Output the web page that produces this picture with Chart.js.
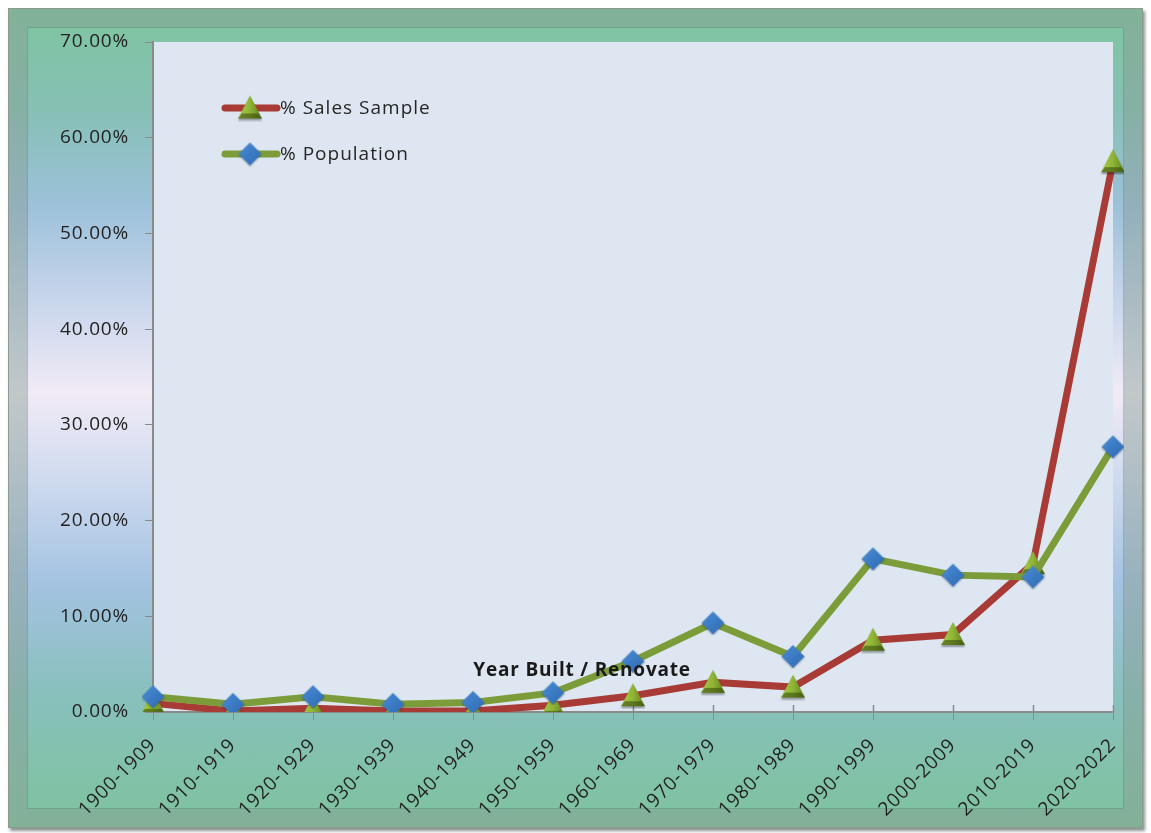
<!DOCTYPE html>
<html>
<head>
<meta charset="utf-8">
<script src="https://cdn.jsdelivr.net/npm/chart.js@4.4.1/dist/chart.umd.min.js"></script>
<style>
  body { margin: 0; background: #ffffff; }
  #wrap { position: relative; width: 1151px; height: 833px; overflow: hidden; }
  #frame {
    position: absolute; left: 8px; top: 8px; width: 1133px; height: 818px;
    border: 1px solid #8c9a92;
    background: linear-gradient(to bottom, #7ec59f 0%, #86c0b4 12%, #9cc1da 24%, #c9d6ec 36%, #f1ebf6 47%, #cdd9ee 58%, #a4c3e2 70%, #88c0bc 84%, #7ec39d 100%);
    box-shadow: inset 0 0 0 18px rgba(255,255,255,0.14), inset 0 0 0 19px rgba(80,110,95,0.35), 2px 3px 3px rgba(60,70,65,0.6);
  }
  canvas { position: absolute; left: 0; top: 0; }
</style>
</head>
<body>
<div id="wrap">
  <div id="frame"></div>
  <canvas id="chart" width="1151" height="833"></canvas>
</div>
<script>
// categories and values (percent)
const decades = ['1900-1909','1910-1919','1920-1929','1930-1939','1940-1949','1950-1959','1960-1969','1970-1979','1980-1989','1990-1999','2000-2009','2010-2019','2020-2022'];
const salesSample = [0.9, 0.1, 0.4, 0.1, 0.1, 0.7, 1.7, 3.1, 2.6, 7.5, 8.1, 15.5, 57.5];
const population = [1.6, 0.8, 1.6, 0.8, 1.0, 2.0, 5.3, 9.3, 5.8, 16.0, 14.3, 14.1, 27.7];
const seriesNames = ['% Sales Sample', '% Population'];
const axisTitle = 'Year Built / Renovate';

const FONT = '"Open Sans", Lato, sans-serif';

// green shaded triangle marker
function makeTriangle() {
  const c = document.createElement('canvas');
  c.width = 28; c.height = 27;
  const g = c.getContext('2d');
  g.shadowColor = 'rgba(0,0,0,0.35)';
  g.shadowOffsetY = 2; g.shadowBlur = 2;
  g.beginPath();
  g.moveTo(14, 1); g.lineTo(26, 24); g.lineTo(2, 24); g.closePath();
  const grad = g.createLinearGradient(2, 0, 26, 0);
  grad.addColorStop(0, '#a9cb4c');
  grad.addColorStop(0.5, '#8fb436');
  grad.addColorStop(1, '#5f7f1c');
  g.fillStyle = grad;
  g.fill();
  g.shadowColor = 'transparent';
  // darker base band
  g.beginPath();
  g.moveTo(6, 19); g.lineTo(22, 19); g.lineTo(26, 24); g.lineTo(2, 24); g.closePath();
  g.fillStyle = 'rgba(50,70,10,0.55)';
  g.fill();
  return c;
}

// blue diamond marker
function makeDiamond() {
  const c = document.createElement('canvas');
  c.width = 25; c.height = 25;
  const g = c.getContext('2d');
  g.shadowColor = 'rgba(0,0,0,0.3)';
  g.shadowOffsetY = 1; g.shadowBlur = 2;
  g.beginPath();
  g.moveTo(12.5, 1); g.lineTo(24, 12.5); g.lineTo(12.5, 24); g.lineTo(1, 12.5); g.closePath();
  const grad = g.createLinearGradient(0, 0, 25, 25);
  grad.addColorStop(0, '#4a8fd8');
  grad.addColorStop(1, '#2d68b0');
  g.fillStyle = grad;
  g.fill();
  return c;
}

const triImg = makeTriangle();
const diaImg = makeDiamond();

// plot background, axis title, and legend inside plot area
const decor = {
  id: 'decor',
  beforeDraw(chart) {
    const a = chart.chartArea;
    const ctx = chart.ctx;
    ctx.letterSpacing = '0.8px'; // widen tick text a bit (Excel look)
    ctx.save();
    ctx.fillStyle = '#dde6f1';
    ctx.fillRect(a.left, a.top, a.right - a.left, a.bottom - a.top);
    ctx.restore();
  },
  beforeDatasetsDraw(chart) {
    // x ticks cross the axis line, draw the upper half
    const a = chart.chartArea;
    const ctx = chart.ctx;
    const xs = chart.scales.x;
    ctx.save();
    ctx.strokeStyle = '#8a8a8a';
    ctx.lineWidth = 1.5;
    xs.ticks.forEach((t, i) => {
      const px = Math.round(xs.getPixelForTick(i)) + 0.5;
      ctx.beginPath();
      ctx.moveTo(px, a.bottom - 7);
      ctx.lineTo(px, a.bottom);
      ctx.stroke();
    });
    ctx.restore();
  },
  afterDraw(chart) {
    const a = chart.chartArea;
    const ctx = chart.ctx;
    ctx.save();
    ctx.letterSpacing = '0.8px';
    ctx.font = 'bold 19px ' + FONT;
    ctx.fillStyle = '#1a1a1a';
    ctx.textAlign = 'center';
    ctx.textBaseline = 'middle';
    ctx.fillText(axisTitle, a.left + (a.right - a.left) * 0.447, a.bottom - 41);

    // legend
    const rows = [
      { ds: chart.data.datasets[0], img: triImg, y: a.top + 66 },
      { ds: chart.data.datasets[1], img: diaImg, y: a.top + 112 }
    ];
    rows.forEach(r => {
      ctx.strokeStyle = r.ds.borderColor;
      ctx.lineWidth = 7;
      ctx.lineCap = 'round';
      ctx.beginPath();
      ctx.moveTo(a.left + 72, r.y);
      ctx.lineTo(a.left + 124, r.y);
      ctx.stroke();
      ctx.drawImage(r.img, a.left + 97 - r.img.width / 2, r.y - r.img.height / 2);
      ctx.font = '19px ' + FONT;
      ctx.letterSpacing = '1px';
      ctx.fillStyle = '#262626';
      ctx.textAlign = 'left';
      ctx.fillText(r.ds.label, a.left + 127, r.y + 1);
    });
    ctx.restore();
  }
};

new Chart(document.getElementById('chart'), {
  type: 'line',
  data: {
    labels: decades,
    datasets: [
      {
        label: seriesNames[0],
        data: salesSample,
        borderColor: '#a83b35',
        borderWidth: 7,
        pointStyle: triImg,
        order: 1,
        tension: 0
      },
      {
        label: seriesNames[1],
        data: population,
        borderColor: '#7c9c39',
        borderWidth: 7,
        pointStyle: diaImg,
        order: 0,
        tension: 0
      }
    ]
  },
  options: {
    responsive: false,
    animation: false,
    layout: { padding: { top: 42, right: 38, left: 0, bottom: 0 } },
    plugins: {
      legend: { display: false },
      tooltip: { enabled: false }
    },
    scales: {
      x: {
        offset: false,
        grid: { display: true, drawOnChartArea: false, drawTicks: true, tickLength: 8, color: '#8a8a8a' },
        border: { color: '#8a8a8a', width: 2 },
        ticks: {
          color: '#222',
          font: { family: FONT, size: 19 },
          maxRotation: 45, minRotation: 45,
          padding: 14,
          autoSkip: false
        },
        afterFit(s) { s.height = 833 - 712; }
      },
      y: {
        min: 0, max: 70,
        grid: { display: true, drawOnChartArea: false, drawTicks: true, tickLength: 8, color: '#8a8a8a' },
        border: { color: '#8a8a8a', width: 2 },
        ticks: {
          stepSize: 10,
          color: '#222',
          font: { family: FONT, size: 19 },
          padding: 16,
          callback: v => v.toFixed(2) + '%'
        },
        afterFit(s) { s.width = 153; }
      }
    }
  },
  plugins: [decor]
});
</script>
</body>
</html>
